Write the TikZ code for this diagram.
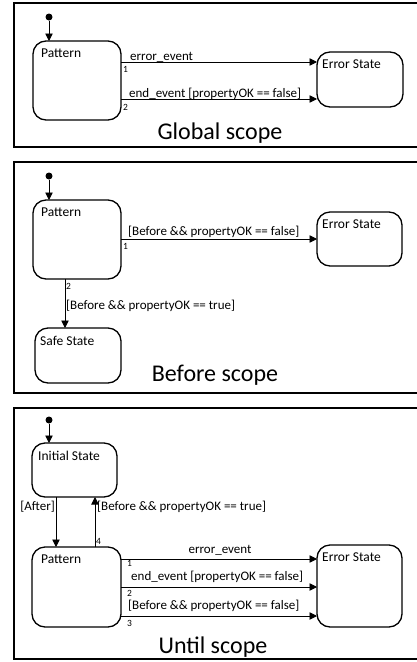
\documentclass[tikz,border=0pt]{standalone}
\usepackage{fontspec}
\setmainfont{Carlito}
\usetikzlibrary{arrows.meta}
\begin{document}
\begin{tikzpicture}[x=1pt,y=-1pt,
 frame/.style={line width=1.6pt},
 state/.style={draw, line width=1.3pt, rounded corners=13pt, anchor=north west, inner sep=0pt, outer sep=0pt},
 stxt/.style={anchor=north west, inner sep=0pt, font=\fontsize{13.5}{15}\selectfont},
 tr/.style={line width=0.9pt, -{Triangle[length=7.5pt,width=7.5pt]}},
 lbl/.style={inner sep=0pt, font=\fontsize{13}{15}\selectfont},
 num/.style={inner sep=0pt, anchor=west, font=\fontsize{9.5}{11}\selectfont},
 ttl/.style={font=\fontsize{24}{28}\selectfont, inner sep=0pt},
 init/.style={circle, fill, inner sep=0pt, minimum size=7pt}]
\useasboundingbox (0,0) rectangle (417,662);

% ---------- Global scope ----------
\draw[frame] (418,3) -- (14,3) -- (14,147) -- (418,147);
\node[init] (i1) at (49,17) {};
\node[state, minimum width=88pt, minimum height=79pt] (p1) at (33,41) {};
\node[stxt] (p1t) at ([xshift=8pt,yshift=-8pt]p1.north west) {Pattern};
\node[state, minimum width=86pt, minimum height=55pt] (e1) at (317,52) {};
\node[stxt] (e1t) at ([xshift=5pt,yshift=-8pt]e1.north west) {Error State};
\draw[tr] (i1) -- (i1 |- p1.north);
\coordinate (a11) at ([yshift=-21pt]p1.north east);
\coordinate (a12) at ([yshift=-58pt]p1.north east);
\draw[tr] (a11) -- (a11 -| e1.west);
\draw[tr] (a12) -- (a12 -| e1.west);
\node[lbl, anchor=west] (l11) at (130,57) {error\_event};
\node[num] (n11) at (123,69) {1};
\node[lbl, anchor=west] (l12) at (129,94) {end\_event [propertyOK == false]};
\node[num] (n12) at (123,107) {2};
\node[ttl] (t1) at (220,133) {Global scope};

% ---------- Before scope ----------
\draw[frame] (418,162) -- (14,162) -- (14,393) -- (418,393);
\node[init] (i2) at (49,176) {};
\node[state, minimum width=88pt, minimum height=79pt] (p2) at (33,200) {};
\node[stxt] (p2t) at ([xshift=8pt,yshift=-8pt]p2.north west) {Pattern};
\node[state, minimum width=85pt, minimum height=54pt] (e2) at (317,212) {};
\node[stxt] (e2t) at ([xshift=5pt,yshift=-8pt]e2.north west) {Error State};
\node[state, minimum width=86pt, minimum height=55pt] (s2) at (35,328) {};
\node[stxt] (s2t) at ([xshift=5pt,yshift=-8pt]s2.north west) {Safe State};
\draw[tr] (i2) -- (i2 |- p2.north);
\coordinate (a21) at ([yshift=-39pt]p2.north east);
\draw[tr] (a21) -- (a21 -| e2.west);
\coordinate (a22) at ([xshift=32pt]p2.south west);
\draw[tr] (a22) -- (a22 |- s2.north);
\node[lbl, anchor=west] (l21) at (128,232) {[Before \&\& propertyOK == false]};
\node[num] (n21) at (123,246) {1};
\node[num] (n22) at (66,286) {2};
\node[lbl, anchor=west] (l22) at (66,306) {[Before \&\& propertyOK == true]};
\node[ttl] (t2) at (215,375) {Before scope};

% ---------- Until scope ----------
\draw[frame] (418,408) -- (14,408) -- (14,659) -- (418,659);
\node[init] (i3) at (49,420) {};
\node[state, minimum width=85pt, minimum height=54pt] (q3) at (32,443) {};
\node[stxt] (q3t) at ([xshift=6pt,yshift=-8pt]q3.north west) {Initial State};
\node[state, minimum width=89pt, minimum height=80pt] (p3) at (32,547) {};
\node[stxt] (p3t) at ([xshift=9pt,yshift=-8pt]p3.north west) {Pattern};
\node[state, minimum width=85pt, minimum height=82pt] (e3) at (317,545) {};
\node[stxt] (e3t) at ([xshift=5pt,yshift=-8pt]e3.north west) {Error State};
\draw[tr] (i3) -- (i3 |- q3.north);
\coordinate (d3) at ([xshift=24pt]q3.south west);
\draw[tr] (d3) -- (d3 |- p3.north);
\coordinate (u3) at ([xshift=63pt]p3.north west);
\draw[tr] (u3) -- (u3 |- q3.south);
\node[lbl, anchor=east] (l3a) at (55,507) {[After]};
\node[lbl, anchor=west] (l3b) at (97,507) {[Before \&\& propertyOK == true]};
\node[num] (n34) at (96,541) {4};
\coordinate (a31) at ([yshift=-12pt]p3.north east);
\coordinate (a32) at ([yshift=-40pt]p3.north east);
\coordinate (a33) at ([yshift=-69pt]p3.north east);
\draw[tr] (a31) -- (a31 -| e3.west);
\draw[tr] (a32) -- (a32 -| e3.west);
\draw[tr] (a33) -- (a33 -| e3.west);
\node[lbl] (l31) at (220,550) {error\_event};
\node[num] (n31) at (127,563) {1};
\node[lbl, anchor=west] (l32) at (131,577) {end\_event [propertyOK == false]};
\node[num] (n32) at (127,593) {2};
\node[lbl, anchor=west] (l33) at (128,606) {[Before \&\& propertyOK == false]};
\node[num] (n33) at (127,623) {3};
\node[ttl] (t3) at (213,647) {Until scope};
\end{tikzpicture}
\end{document}
